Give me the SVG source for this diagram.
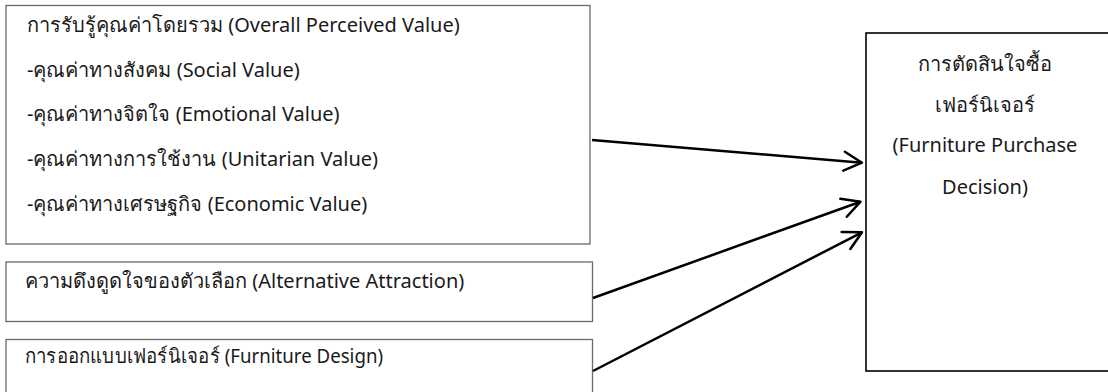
<svg xmlns="http://www.w3.org/2000/svg" width="1108" height="392" viewBox="0 0 1108 392">
<defs>
<style>
.box{fill:#fff;stroke:#6a6a6a;stroke-width:1.3}
.box2{fill:#fff;stroke:#000;stroke-width:1.6}
text{font-family:"Noto Sans","DejaVu Sans",sans-serif;font-size:20px;fill:#1a1a1a}
.c{text-anchor:middle}
.conn{stroke:#000;stroke-width:2.5;fill:none}
</style>
<marker id="arr" markerUnits="userSpaceOnUse" viewBox="-22 -12 24 24" refX="0" refY="0" markerWidth="24" markerHeight="24" orient="auto">
<path d="M-18,-9.5 L0,0 L-18,9.5" fill="none" stroke="#000" stroke-width="2.5" stroke-linecap="round" stroke-linejoin="round"/>
</marker>
</defs>
<rect width="1108" height="392" fill="#fff"/>
<g id="node-overall">
<rect class="box" x="6" y="5.5" width="584" height="238.5"/>
<text x="27" y="32">การรับรู้คุณค่าโดยรวม (Overall Perceived Value)</text>
<text x="27" y="77">-คุณค่าทางสังคม (Social Value)</text>
<text x="27" y="121">-คุณค่าทางจิตใจ (Emotional Value)</text>
<text x="27" y="166">-คุณค่าทางการใช้งาน (Unitarian Value)</text>
<text x="27" y="211">-คุณค่าทางเศรษฐกิจ (Economic Value)</text>
</g>
<g id="node-alternative">
<rect class="box" x="6" y="262" width="586.5" height="59.5"/>
<text x="25" y="288">ความดึงดูดใจของตัวเลือก (Alternative Attraction)</text>
</g>
<g id="node-design">
<rect class="box" x="6" y="339.5" width="586.5" height="60"/>
<text x="25" y="363" textLength="358" lengthAdjust="spacingAndGlyphs">การออกแบบเฟอร์นิเจอร์ (Furniture Design)</text>
</g>
<g id="node-decision">
<rect class="box2" x="866" y="33" width="250" height="338"/>
<text class="c" x="985" y="71">การตัดสินใจซื้อ</text>
<text class="c" x="985" y="112">เฟอร์นิเจอร์</text>
<text class="c" x="985" y="152">(Furniture Purchase</text>
<text class="c" x="985" y="194">Decision)</text>
</g>
<g id="connectors">
<line class="conn" x1="592" y1="140" x2="862" y2="162.7" marker-end="url(#arr)"/>
<line class="conn" x1="593" y1="298" x2="860.5" y2="201.7" marker-end="url(#arr)"/>
<line class="conn" x1="593" y1="371" x2="862" y2="232.3" marker-end="url(#arr)"/>
</g>
</svg>
